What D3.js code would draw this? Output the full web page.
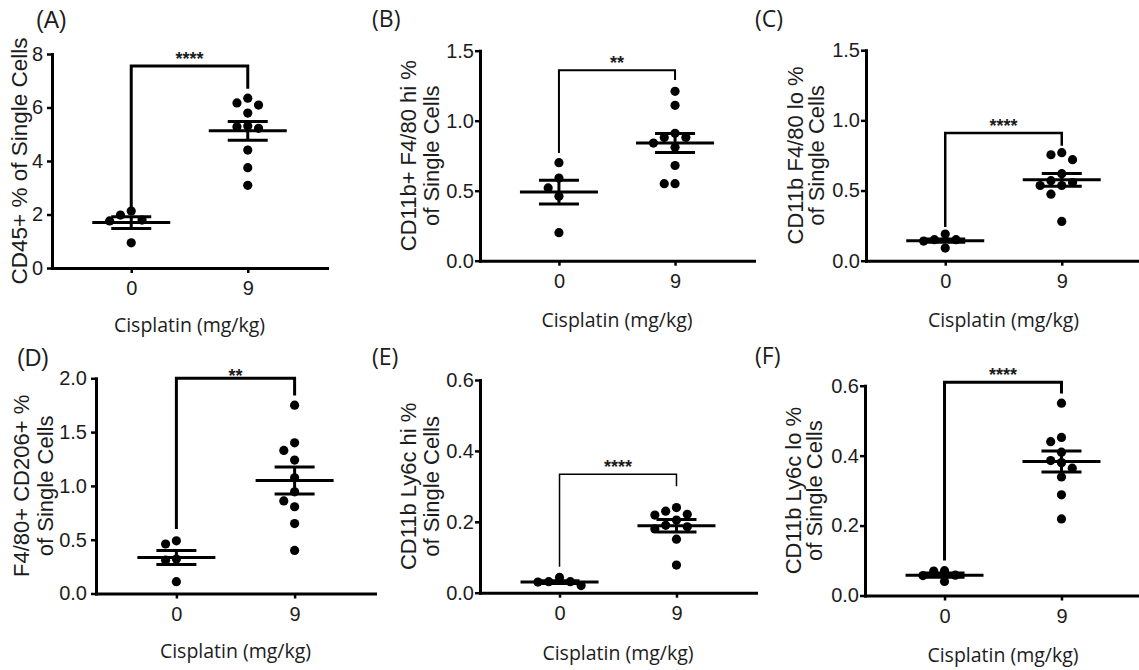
<!DOCTYPE html>
<html>
<head>
<meta charset="utf-8">
<script src="https://cdn.jsdelivr.net/npm/d3@7"></script>
<style>
  html, body { margin: 0; padding: 0; background: #fff; }
  svg { display: block; }
</style>
</head>
<body>
<svg id="chart" width="1139" height="670"></svg>
<script>
// ---------------- DATA ----------------
const categories = ["0", "9"];
const xTitle = "Cisplatin (mg/kg)";
const panelLabels = ["(A)", "(B)", "(C)", "(D)", "(E)", "(F)"];
const yTitles = [
  ["CD45+ % of Single Cells"],
  ["CD11b+ F4/80 hi %", "of Single  Cells"],
  ["CD11b F4/80 lo %", "of Single Cells"],
  ["F4/80+ CD206+ %", "of Single Cells"],
  ["CD11b Ly6c hi %", "of Single Cells"],
  ["CD11b Ly6c lo %", "of Single Cells"]
];
const yMax = [8, 1.5, 1.5, 2.0, 0.6, 0.6];
const yTicks = [
  [0, 2, 4, 6, 8],
  [0, 0.5, 1.0, 1.5],
  [0, 0.5, 1.0, 1.5],
  [0, 0.5, 1.0, 1.5, 2.0],
  [0, 0.2, 0.4, 0.6],
  [0, 0.2, 0.4, 0.6]
];
const tickFormats = ["d", ".1f", ".1f", ".1f", ".1f", ".1f"];

// individual animals: control (0 mg/kg) and cisplatin (9 mg/kg)
const controlA = [2.13, 1.98, 1.79, 1.76, 0.94];
const cisplatinA = [6.35, 6.17, 6.09, 5.79, 5.31, 5.28, 5.22, 4.41, 3.75, 3.09];
const controlB = [0.70, 0.59, 0.52, 0.46, 0.20];
const cisplatinB = [1.21, 1.11, 0.91, 0.88, 0.88, 0.84, 0.81, 0.68, 0.55, 0.55];
const controlC = [0.19, 0.15, 0.09, 0.14, 0.15];
const cisplatinC = [0.77, 0.755, 0.72, 0.62, 0.57, 0.557, 0.536, 0.536, 0.474, 0.28];
const controlD = [0.49, 0.46, 0.32, 0.31, 0.11];
const cisplatinD = [1.75, 1.40, 1.33, 1.24, 1.075, 0.945, 0.86, 0.806, 0.65, 0.40];
const controlE = [0.043, 0.031, 0.031, 0.030, 0.020];
const cisplatinE = [0.24, 0.23, 0.221, 0.219, 0.205, 0.19, 0.186, 0.18, 0.151, 0.078];
const controlF = [0.071, 0.070, 0.058, 0.057, 0.040];
const cisplatinF = [0.55, 0.452, 0.44, 0.41, 0.386, 0.38, 0.364, 0.339, 0.288, 0.219];

// group mean and SEM, as drawn
const means = [[1.70, 5.13], [0.49, 0.84], [0.143, 0.576], [0.335, 1.05], [0.030, 0.189], [0.058, 0.383]];
const sems  = [[0.22, 0.35], [0.085, 0.068], [0.012, 0.045], [0.065, 0.125], [0.004, 0.0175], [0.006, 0.03]];

// significance brackets: [top level, left leg end, right leg end] in data units
const bracketLevels = [[7.55, 2.28, 6.7], [1.36, 0.77, 1.29], [0.91, 0.24, 0.82], [2.0, 0.60, 1.84], [0.334, 0.073, 0.30], [0.61, 0.10, 0.578]];
const stars = ["****", "**", "****", "**", "****", "****"];

const groups = [
  [controlA, cisplatinA], [controlB, cisplatinB], [controlC, cisplatinC],
  [controlD, cisplatinD], [controlE, cisplatinE], [controlF, cisplatinF]
];

// ---------------- LAYOUT / STYLE ----------------
const layout = [
  {left: 52,  right: 327,  top: 54,    bottom: 268,   labelX: 36,  labelY: 28,  labelFont: "Liberation Sans", titleY: 325, yTitleX: [-25], tickGap: 4, bracketW: 3,   starGap: 1},
  {left: 480, right: 754,  top: 50.7,  bottom: 260.7, labelX: 372, labelY: 27,  labelFont: "Open Sans",       titleY: 320, yTitleX: [-64, -41], tickGap: 1, bracketW: 2,   starGap: 1},
  {left: 866, right: 1141, top: 50.2,  bottom: 260.7, labelX: 755, labelY: 27,  labelFont: "Open Sans",       titleY: 320, yTitleX: [-63, -42], tickGap: 1, bracketW: 2.5, starGap: 1},
  {left: 96,  right: 375,  top: 378.3, bottom: 593.5, labelX: 17,  labelY: 366, labelFont: "Liberation Sans", titleY: 651, yTitleX: [-67, -43], tickGap: 4, bracketW: 3,   starGap: -4},
  {left: 480, right: 756,  top: 380,   bottom: 592.7, labelX: 372, labelY: 365, labelFont: "Open Sans",       titleY: 653, yTitleX: [-64, -41], tickGap: 1, bracketW: 1.5, starGap: 1},
  {left: 865, right: 1141, top: 385.7, bottom: 595.5, labelX: 755, labelY: 364, labelFont: "Open Sans",       titleY: 655, yTitleX: [-64, -43], tickGap: 1, bracketW: 3,   starGap: 1}
];
const INK = "#000";
const TEXT = "#1c1c1c";
const DOT_R = 4.6;
const SLOT = 10.8;
const MEAN_HALF = 39;
const SEM_HALF = 20;

const svg = d3.select("#chart");

// simple column swarm: place each point in the nearest free slot
function swarm(values, y) {
  const placed = [];
  const sorted = values.map((v, i) => ({v, i})).sort((a, b) => b.v - a.v);
  const out = new Array(values.length);
  sorted.forEach(p => {
    const py = y(p.v);
    const cands = [0, -1, 1, -2, 2, -3, 3];
    for (const c of cands) {
      const px = c * SLOT;
      const ok = placed.every(q => Math.hypot(q.x - px, q.y - py) >= 2 * DOT_R + 0.8);
      if (ok) { placed.push({x: px, y: py}); out[p.i] = {v: p.v, dx: px}; break; }
    }
  });
  return out;
}

layout.forEach((L, k) => {
  const g = svg.append("g");
  const y = d3.scaleLinear().domain([0, yMax[k]]).range([L.bottom, L.top]);
  const x = d3.scalePoint().domain(categories).range([L.left, L.right]).padding(0.68);

  // y axis
  const yAxis = d3.axisLeft(y).tickValues(yTicks[k]).tickFormat(d3.format(tickFormats[k]))
    .tickSizeInner(5).tickSizeOuter(0).tickPadding(L.tickGap);
  const ya = g.append("g").attr("transform", `translate(${L.left},0)`).call(yAxis);
  ya.select(".domain").attr("stroke", INK).attr("stroke-width", 3).attr("stroke-linecap", "square");
  ya.selectAll(".tick line").attr("stroke", INK).attr("stroke-width", 2.5);
  ya.selectAll(".tick text").attr("fill", TEXT).style("font-family", "Liberation Sans, Arial, sans-serif").style("font-size", "20px");

  // x axis
  const xAxis = d3.axisBottom(x).tickSizeInner(5).tickSizeOuter(0).tickPadding(8);
  const xa = g.append("g").attr("transform", `translate(0,${L.bottom})`).call(xAxis);
  xa.select(".domain").attr("stroke", INK).attr("stroke-width", 3).attr("stroke-linecap", "square");
  xa.selectAll(".tick line").attr("stroke", INK).attr("stroke-width", 2.5);
  xa.selectAll(".tick text").attr("fill", TEXT).style("font-family", "Liberation Sans, Arial, sans-serif").style("font-size", "20px");

  // x title
  g.append("text").attr("x", (L.left + L.right) / 2).attr("y", L.titleY).attr("dy", "0.35em")
    .attr("text-anchor", "middle").attr("fill", TEXT)
    .style("font-family", "Open Sans, sans-serif").style("font-size", "19.5px").text(xTitle);

  // y title
  const ymid = (L.top + L.bottom) / 2;
  yTitles[k].forEach((line, j) => {
    g.append("text").attr("transform", `translate(${L.left + L.yTitleX[j]},${ymid}) rotate(-90)`)
      .attr("text-anchor", "middle").attr("fill", TEXT)
      .style("font-family", "Liberation Sans, Arial, sans-serif").style("font-size", k === 0 ? "22.5px" : "22px")
      .text(line);
  });

  // panel label
  g.append("text").attr("x", L.labelX).attr("y", L.labelY).attr("fill", TEXT)
    .style("font-family", L.labelFont + ", sans-serif").style("font-size", "23px").text(panelLabels[k]);

  // bracket
  const [bt, bl, br] = bracketLevels[k];
  const x0 = x(categories[0]), x1 = x(categories[1]);
  const bp = d3.path();
  bp.moveTo(x0, y(bl)); bp.lineTo(x0, y(bt)); bp.lineTo(x1, y(bt)); bp.lineTo(x1, y(br));
  g.append("path").attr("d", bp.toString()).attr("fill", "none").attr("stroke", INK)
    .attr("stroke-width", L.bracketW).attr("stroke-linejoin", "miter");
  g.append("text").attr("x", (x0 + x1) / 2).attr("y", y(bt) - L.starGap).attr("text-anchor", "middle")
    .attr("fill", TEXT).style("font-family", "Liberation Sans, Arial, sans-serif").style("font-size", "18px")
    .style("font-weight", "bold").text(stars[k]);

  // points and mean/SEM
  groups[k].forEach((vals, gi) => {
    const cx = x(categories[gi]);
    const pts = swarm(vals, y);
    g.append("g").selectAll("circle").data(pts).join("circle")
      .attr("cx", d => cx + d.dx).attr("cy", d => y(d.v)).attr("r", DOT_R).attr("fill", INK);
    const m = means[k][gi], s = sems[k][gi];
    const lines = [
      [cx - MEAN_HALF, y(m), cx + MEAN_HALF, y(m)],
      [cx - SEM_HALF, y(m + s), cx + SEM_HALF, y(m + s)],
      [cx - SEM_HALF, y(m - s), cx + SEM_HALF, y(m - s)],
      [cx, y(m + s), cx, y(m - s)]
    ];
    g.append("g").selectAll("line").data(lines).join("line")
      .attr("x1", d => d[0]).attr("y1", d => d[1]).attr("x2", d => d[2]).attr("y2", d => d[3])
      .attr("stroke", INK).attr("stroke-width", 3);
  });
});
</script>
</body>
</html>
